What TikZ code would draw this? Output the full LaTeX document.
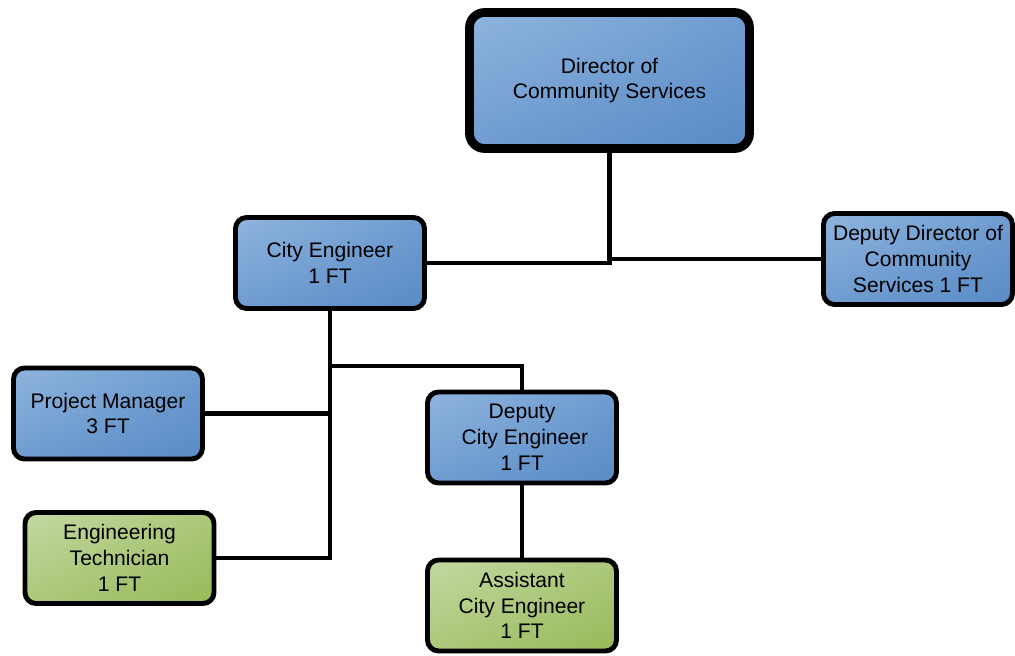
\documentclass[tikz,border=0pt]{standalone}
\usepackage{fontspec}
\setmainfont{Liberation Sans}
\usepackage{tikz}
\usetikzlibrary{shadings}
\definecolor{bluehi}{RGB}{143,181,222}
\definecolor{bluemid}{RGB}{112,156,208}
\definecolor{bluelo}{RGB}{88,139,198}
\definecolor{greenhi}{RGB}{196,216,162}
\definecolor{greenmid}{RGB}{172,200,122}
\definecolor{greenlo}{RGB}{152,185,88}
\tikzstyle{box}=[draw,black,line width=2.8pt,rounded corners=0.22cm,align=center,
  minimum width=3.78cm,minimum height=1.82cm,inner sep=0pt,
  font=\fontsize{12}{14.7}\selectfont]
\tikzstyle{dirbox}=[box,line width=5pt,rounded corners=0.3cm,
  minimum width=5.6cm,minimum height=2.72cm]
\tikzstyle{c1}=[upper left=bluehi,upper right=bluemid,lower left=bluemid,lower right=bluelo]
\tikzstyle{c2}=[upper left=greenhi,upper right=greenmid,lower left=greenmid,lower right=greenlo]
\tikzstyle{link}=[line width=2.3pt,black]

\begin{document}
\begin{tikzpicture}[x=0.02cm,y=-0.02cm]
\useasboundingbox (0,0) rectangle (1015,656);
% top
\node[dirbox,c1] (dir) at (609.5,80.5) {Director of\\Community Services};
% blue boxes
\foreach \place/\name/\txt in {%
  {(330,263)/ce/{City Engineer\\1 FT}},
  {(918,259)/dd/{Deputy Director of\\Community\\Services 1 FT}},
  {(108,413.5)/pm/{Project Manager\\3 FT}},
  {(522,437.5)/dce/{Deputy\\\ City Engineer\\1 FT}}}
    \node[box,c1] (\name) at \place {\txt};
% green boxes
\foreach \place/\name/\txt in {%
  {(119.5,558)/et/{Engineering\\Technician\\1 FT}},
  {(522,605.5)/ace/{Assistant\\City Engineer\\1 FT}}}
    \node[box,c2] (\name) at \place {\txt};

\coordinate (bus) at (ce.south |- 0,366);
\draw[link] (dir.south) |- (ce.east);
\draw[link] (dir.south) |- (dd.west);
\foreach \dest in {pm,et}
  \draw[link] (ce.south) |- (\dest.east);
\draw[link] (bus) -| (dce.north);
\draw[link] (dce) -- (ace);
\end{tikzpicture}
\end{document}
